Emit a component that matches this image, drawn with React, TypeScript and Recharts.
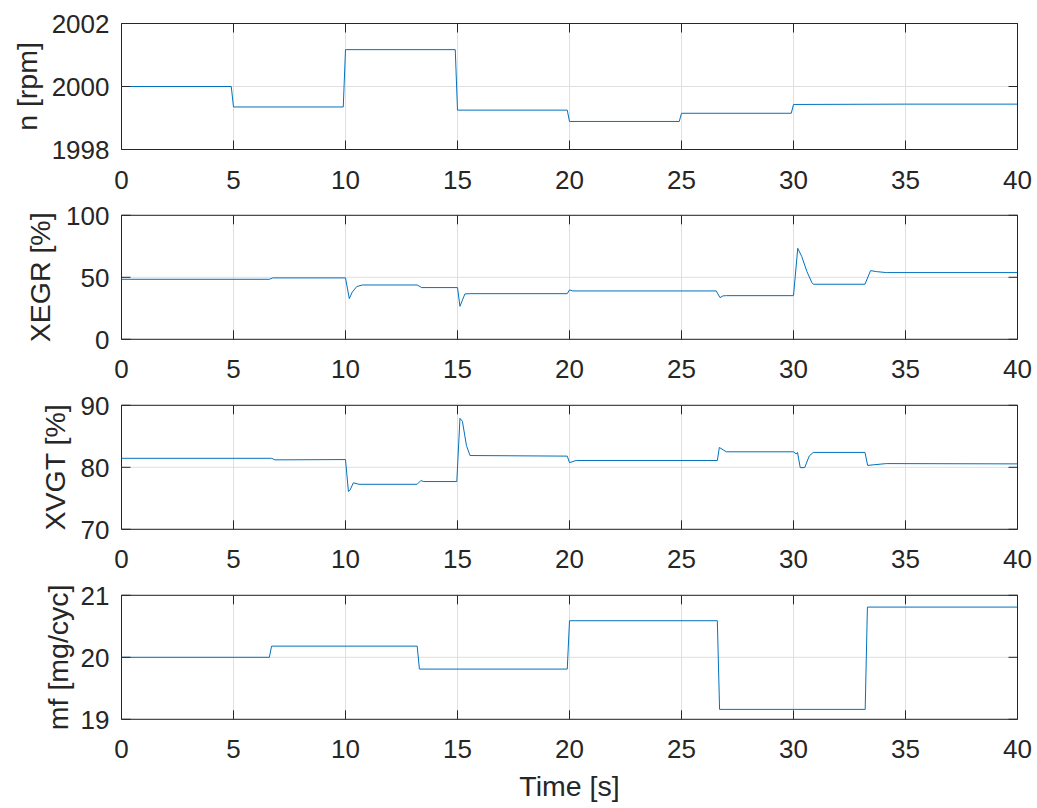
import React from 'react';
import { LineChart, Line, XAxis, YAxis, CartesianGrid, ReferenceArea, Label } from 'recharts';

// ---- Data ----
const timeTicks = [0, 5, 10, 15, 20, 25, 30, 35, 40];

const nTime = [0, 4.9, 5.0, 9.9, 10.0, 14.9, 15.0, 19.9, 20.0, 24.9, 25.0, 29.9, 30.0, 35, 40];
const nValues = [2000, 2000, 1999.35, 1999.35, 2001.17, 2001.17, 1999.25, 1999.25, 1998.89, 1998.89, 1999.15, 1999.15, 1999.43, 1999.44, 1999.44];
const nTicks = [1998, 2000, 2002];

const egrTime = [0, 6.6, 6.75, 10.0, 10.17, 10.3, 10.5, 10.75, 13.2, 13.4, 15.0, 15.11, 15.33, 15.6, 19.9, 20.0, 20.15, 26.55, 26.72, 26.85, 27.0, 30.0, 30.19, 30.37, 30.6, 30.82, 30.88, 33.19, 33.44, 33.7, 34.15, 40];
const egrValues = [48.4, 48.4, 49.5, 49.5, 32.8, 38, 42.5, 43.8, 43.8, 41.7, 41.7, 26.6, 36.6, 36.8, 36.8, 39.8, 39.0, 39.0, 33.6, 35.0, 35.2, 35.2, 73.4, 66.7, 54.6, 45.7, 44.4, 44.4, 55.4, 54.6, 53.8, 53.8];
const egrTicks = [0, 50, 100];

const vgtTime = [0, 6.7, 6.85, 10.0, 10.13, 10.2, 10.35, 10.6, 13.2, 13.36, 13.5, 14.97, 15.11, 15.22, 15.4, 15.56, 19.9, 20.0, 20.3, 26.6, 26.69, 27.0, 30.0, 30.12, 30.18, 30.3, 30.5, 30.7, 30.88, 33.19, 33.31, 33.56, 34.15, 40];
const vgtValues = [81.45, 81.45, 81.2, 81.25, 76.1, 76.3, 77.5, 77.26, 77.26, 77.85, 77.7, 77.7, 87.9, 87.4, 83.5, 81.9, 81.8, 80.75, 81.1, 81.1, 83.2, 82.5, 82.5, 82.15, 82.4, 79.95, 79.95, 81.8, 82.4, 82.4, 80.3, 80.4, 80.6, 80.55];
const vgtTicks = [70, 80, 90];

const mfTime = [0, 6.6, 6.7, 13.2, 13.3, 19.9, 20.0, 26.6, 26.7, 33.2, 33.3, 40];
const mfValues = [20, 20, 20.18, 20.18, 19.81, 19.81, 20.59, 20.59, 19.16, 19.16, 20.81, 20.81];
const mfTicks = [19, 20, 21];

const build = (t: number[], v: number[]) => t.map((x, i) => ({ t: x, v: v[i] }));

// ---- Styling ----
const FONT = '"Liberation Sans", Arial, Helvetica, sans-serif';
const TXT = '#262626';
const LINE = '#0072BD';
const GRID = '#dfdfdf';
const W = 1037;
const H = 808;
const PLOT_LEFT = 121.5;
const PLOT_RIGHT = 1017.5;
const PLOT_W = PLOT_RIGHT - PLOT_LEFT;
const TICK_LEN = 9;
const TICK_FS = 26;
const LABEL_FS = 28.5;

type SubProps = {
  data: { t: number; v: number }[];
  yTicks: number[];
  yLabel: string;
  yLabelX: number;
  plotTop: number;
  plotBottom: number;
  showTime?: boolean;
};

function SubPlot({ data, yTicks, yLabel, yLabelX, plotTop, plotBottom, showTime }: SubProps) {
  const plotH = plotBottom - plotTop;
  const yMin = yTicks[0];
  const yMax = yTicks[yTicks.length - 1];

  const xTick = (props: any) => {
    const { x, y, payload } = props;
    return (
      <g>
        <line x1={x} y1={y} x2={x} y2={y - TICK_LEN} stroke={TXT} strokeWidth={1} />
        <line x1={x} y1={y - plotH} x2={x} y2={y - plotH + TICK_LEN} stroke={TXT} strokeWidth={1} />
        <text x={x} y={y + 39} textAnchor="middle" fontFamily={FONT} fontSize={TICK_FS} fill={TXT}>
          {payload.value}
        </text>
      </g>
    );
  };

  const yTick = (props: any) => {
    const { x, y, payload } = props;
    return (
      <g>
        <line x1={x} y1={y} x2={x + TICK_LEN} y2={y} stroke={TXT} strokeWidth={1} />
        <line x1={x + PLOT_W} y1={y} x2={x + PLOT_W - TICK_LEN} y2={y} stroke={TXT} strokeWidth={1} />
        <text x={x - 12} y={y + 9.3} textAnchor="end" fontFamily={FONT} fontSize={TICK_FS} fill={TXT}>
          {payload.value}
        </text>
      </g>
    );
  };

  const cy = (plotTop + plotBottom) / 2;
  const yLabelContent = () => (
    <text
      x={yLabelX}
      y={cy}
      transform={`rotate(-90 ${yLabelX} ${cy})`}
      textAnchor="middle"
      dominantBaseline="central"
      fontFamily={FONT}
      fontSize={LABEL_FS}
      fill={TXT}
    >
      {yLabel}
    </text>
  );

  const timeLabelContent = () => (
    <text
      x={(PLOT_LEFT + PLOT_RIGHT) / 2}
      y={plotBottom + 76.7}
      textAnchor="middle"
      fontFamily={FONT}
      fontSize={LABEL_FS}
      fill={TXT}
    >
      Time [s]
    </text>
  );

  return (
    <div style={{ position: 'absolute', left: 0, top: 0, width: W, height: H }}>
      <LineChart
        width={W}
        height={H}
        data={data}
        margin={{ top: plotTop, bottom: H - plotBottom - 30, left: PLOT_LEFT - 60, right: W - PLOT_RIGHT }}
      >
        <CartesianGrid stroke={GRID} strokeWidth={1} />
        <XAxis
          dataKey="t"
          type="number"
          domain={[0, 40]}
          ticks={timeTicks}
          interval={0}
          height={30}
          axisLine={false}
          tickLine={false}
          tickSize={0}
          tickMargin={0}
          tick={xTick}
          allowDataOverflow
        >
          {showTime ? <Label content={timeLabelContent} /> : null}
        </XAxis>
        <YAxis
          type="number"
          domain={[yMin, yMax]}
          ticks={yTicks}
          interval={0}
          width={60}
          axisLine={false}
          tickLine={false}
          tickSize={0}
          tickMargin={0}
          tick={yTick}
          allowDataOverflow
        >
          <Label content={yLabelContent} />
        </YAxis>
        <ReferenceArea x1={0} x2={40} y1={yMin} y2={yMax} fill="none" stroke={TXT} strokeWidth={1} strokeOpacity={1} fillOpacity={0} ifOverflow="visible" />
        <Line
          type="linear"
          dataKey="v"
          stroke={LINE}
          strokeWidth={1}
          dot={false}
          activeDot={false}
          isAnimationActive={false}
        />
      </LineChart>
    </div>
  );
}

export default function App() {
  return (
    <div style={{ position: 'absolute', left: 0, top: 0, width: W, height: H, background: '#fff' }}>
      <SubPlot data={build(nTime, nValues)} yTicks={nTicks} yLabel="n [rpm]" yLabelX={27} plotTop={23.5} plotBottom={149.5} />
      <SubPlot data={build(egrTime, egrValues)} yTicks={egrTicks} yLabel="XEGR [%]" yLabelX={40} plotTop={215.3} plotBottom={339.3} />
      <SubPlot data={build(vgtTime, vgtValues)} yTicks={vgtTicks} yLabel="XVGT [%]" yLabelX={55} plotTop={405.3} plotBottom={529.3} />
      <SubPlot data={build(mfTime, mfValues)} yTicks={mfTicks} yLabel="mf [mg/cyc]" yLabelX={58} plotTop={595.3} plotBottom={719.3} showTime />
    </div>
  );
}
